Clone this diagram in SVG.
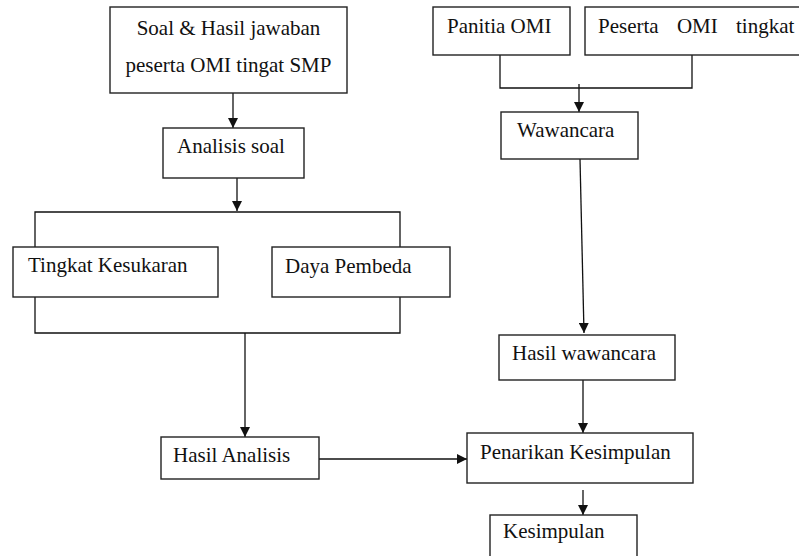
<svg xmlns="http://www.w3.org/2000/svg" width="799" height="556" viewBox="0 0 799 556">
<defs>
<style>
.box{fill:#fff;stroke:#222;stroke-width:1.4}
.t{font-family:"Liberation Serif","Times New Roman",serif;font-size:21px;fill:#111}
.ln{fill:none;stroke:#111;stroke-width:1.3}
</style>
<marker id="ah" viewBox="0 0 10 10" refX="10" refY="5" markerWidth="10" markerHeight="10" markerUnits="userSpaceOnUse" orient="auto">
<path d="M0,0 L10,5 L0,10 Z" fill="#111"/>
</marker>
</defs>
<rect width="799" height="556" fill="#fff"/>
<g id="connectors">
<line class="ln" x1="233" y1="93" x2="233" y2="128" marker-end="url(#ah)"/>
<line class="ln" x1="237" y1="178" x2="237" y2="211" marker-end="url(#ah)"/>
<polyline class="ln" points="35,247 35,212 400,212 400,247"/>
<polyline class="ln" points="35,297 35,333 400,333 400,297"/>
<line class="ln" x1="245" y1="333" x2="245" y2="437" marker-end="url(#ah)"/>
<line class="ln" x1="319" y1="459" x2="467" y2="459" marker-end="url(#ah)"/>
<polyline class="ln" points="500,50 500,88 692,88 692,50"/>
<line class="ln" x1="579" y1="84" x2="579" y2="112" marker-end="url(#ah)"/>
<line class="ln" x1="580" y1="159" x2="584" y2="333" marker-end="url(#ah)"/>
<line class="ln" x1="583" y1="380" x2="583" y2="433" marker-end="url(#ah)"/>
<line class="ln" x1="583" y1="490" x2="583" y2="515" marker-end="url(#ah)"/>
</g>
<g id="soal">
<rect class="box" x="110" y="7" width="237" height="86"/>
<text class="t" x="228.5" y="35" text-anchor="middle">Soal &amp; Hasil jawaban</text>
<text class="t" x="228.5" y="72" text-anchor="middle">peserta OMI tingat SMP</text>
</g>
<g id="analisis">
<rect class="box" x="163" y="128" width="141" height="50"/>
<text class="t" x="177" y="153">Analisis soal</text>
</g>
<g id="tingkat">
<rect class="box" x="13" y="247" width="205" height="50"/>
<text class="t" x="28" y="272">Tingkat Kesukaran</text>
</g>
<g id="daya">
<rect class="box" x="272" y="247" width="178" height="50"/>
<text class="t" x="285" y="273">Daya Pembeda</text>
</g>
<g id="hasilanalisis">
<rect class="box" x="161" y="437" width="158" height="42"/>
<text class="t" x="173" y="462">Hasil Analisis</text>
</g>
<g id="panitia">
<rect class="box" x="433" y="7" width="137" height="48"/>
<text class="t" x="447" y="33">Panitia OMI</text>
</g>
<g id="peserta">
<rect class="box" x="585" y="7" width="220" height="48"/>
<text class="t" x="598" y="33" word-spacing="13">Peserta OMI tingkat</text>
</g>
<g id="wawancara">
<rect class="box" x="501" y="112" width="137" height="47"/>
<text class="t" x="517" y="137">Wawancara</text>
</g>
<g id="hasilwawancara">
<rect class="box" x="499" y="335" width="176" height="45"/>
<text class="t" x="512" y="360">Hasil wawancara</text>
</g>
<g id="penarikan">
<rect class="box" x="467" y="433" width="226" height="50"/>
<text class="t" x="480" y="459">Penarikan Kesimpulan</text>
</g>
<g id="kesimpulan">
<rect class="box" x="490" y="515" width="147" height="50"/>
<text class="t" x="503" y="538">Kesimpulan</text>
</g>
</svg>
